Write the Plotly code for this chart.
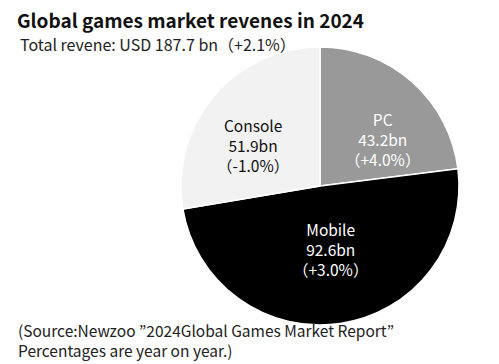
import math
import plotly.graph_objects as go

categories = ["PC", "Mobile", "Console"]
revenue_bn = [43.2, 92.6, 51.9]
yoy_change = ["+4.0%", "+3.0%", "-1.0%"]
slice_colors = ["#999999", "#000000", "#f2f2f2"]
text_colors = ["#ffffff", "#ffffff", "#111111"]
label_nudge_px = [(12, 10), (-1, -13), (-9, 8)]  # styling nudges for label placement

FONT = "Noto Sans CJK JP"
W, H = 499, 364
# pie geometry (pixels)
CX, CY, R = 320, 186, 139

fig = go.Figure(go.Pie(
    labels=categories,
    values=revenue_bn,
    sort=False,
    direction="clockwise",
    rotation=0,
    marker=dict(colors=slice_colors, line=dict(color="#ffffff", width=1.5)),
    textinfo="none",
    hoverinfo="skip",
    showlegend=False,
    domain=dict(x=[(CX - R) / W, (CX + R) / W], y=[1 - (CY + R) / H, 1 - (CY - R) / H]),
))

annotations = [
    dict(text="<b>Global games market revenes in 2024</b>", x=15 / W, y=1 - 4 / H,
         xref="paper", yref="paper", xanchor="left", yanchor="top",
         showarrow=False, font=dict(size=19, family=FONT, color="#111111")),
    dict(text="Total revene: USD 187.7 bn（+2.1%）", x=18 / W, y=1 - 30 / H,
         xref="paper", yref="paper", xanchor="left", yanchor="top",
         showarrow=False, font=dict(size=16, family=FONT, color="#222222")),
    dict(text="(Source:Newzoo ”2024Global Games Market Report”<br>Percentages are year on year.)",
         x=16 / W, y=1.5 / H, xref="paper", yref="paper", xanchor="left", yanchor="bottom",
         align="left", showarrow=False, font=dict(size=15.5, family=FONT, color="#222222")),
]

# slice labels placed from the data's angles
total = sum(revenue_bn)
start = 0.0
for cat, val, chg, col, (nx, ny) in zip(categories, revenue_bn, yoy_change, text_colors, label_nudge_px):
    sweep = val / total * 360
    mid = math.radians(start + sweep / 2)
    start += sweep
    px = CX + 0.55 * R * math.sin(mid) + nx
    py = CY - 0.55 * R * math.cos(mid) + ny
    annotations.append(dict(
        text=f"{cat}<br>{val:.1f}bn<br>（{chg}）", x=px / W, y=1 - py / H,
        xref="paper", yref="paper", xanchor="center", yanchor="middle",
        align="center", showarrow=False,
        font=dict(size=15.5, family=FONT, color=col)))

fig.update_layout(
    width=W, height=H,
    margin=dict(l=0, r=0, t=0, b=0),
    paper_bgcolor="#ffffff",
    plot_bgcolor="#ffffff",
    font=dict(family=FONT, color="#111111"),
    annotations=annotations,
)

fig.write_html("out.html", config={"displayModeBar": False},
               post_script="document.body.style.margin='0';")
